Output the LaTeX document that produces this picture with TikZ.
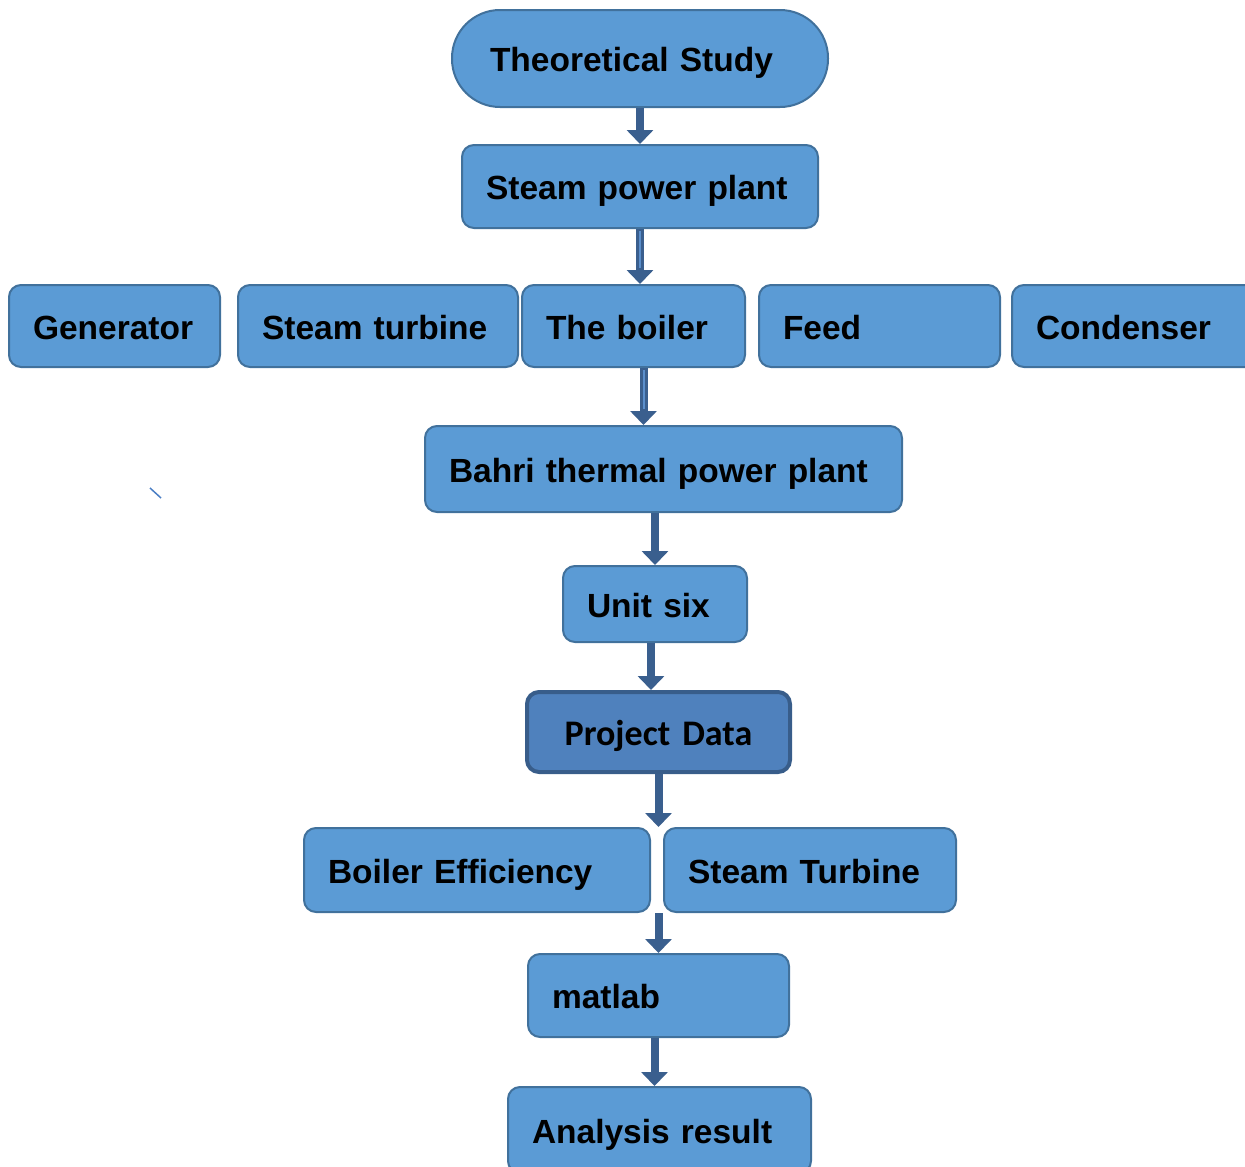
\documentclass[tikz,border=0pt]{standalone}
\usepackage{fontspec}
\setmainfont{Liberation Sans}
\newfontfamily\calibrifont{Carlito}
\usetikzlibrary{arrows.meta,positioning,calc}

\definecolor{boxfill}{HTML}{5B9BD5}
\definecolor{boxline}{HTML}{41719C}
\definecolor{datafill}{HTML}{4F81BD}
\definecolor{dataline}{HTML}{385D8A}
\definecolor{arrowblue}{HTML}{3A5F8E}
\definecolor{arrowlight}{HTML}{5B8FCC}
\definecolor{strayblue}{HTML}{4A7EC4}

\begin{document}
\begin{tikzpicture}[
  x=1pt, y=-1pt,
  stepbox/.style={draw=boxline, fill=boxfill, rounded corners=12pt, line width=2pt,
                  inner xsep=24pt, inner ysep=0pt, align=left,
                  text height=26pt, text depth=0pt,
                  font=\bfseries\fontsize{33.5}{38}\selectfont},
  startbox/.style={stepbox, rounded corners=48pt, inner xsep=38pt},
  databox/.style={stepbox, draw=dataline, fill=datafill, line width=4pt,
                  align=center, inner xsep=30pt,
                  font=\calibrifont\bfseries\fontsize{36}{40}\selectfont},
  arrow/.style={-{Triangle[length=14pt,width=26pt]}, line width=8pt, draw=arrowblue},
  innerline/.style={line width=2pt, draw=arrowlight, shorten >=16pt, shorten <=2pt},
  strayline/.style={line width=1.5pt, draw=strayblue}
]
\useasboundingbox (0,0) rectangle (1245,1167);

% Top of the chart
\node[startbox, text width=300pt, minimum height=97pt] (ts) at (640,58.5) {Theoretical Study};
\node[stepbox, text width=308pt, minimum height=83pt] (spp) at (640,186.5) {Steam power plant};

% Row of plant parts
\node[stepbox, text width=163pt, minimum height=82pt] (gen) at (114.5,326) {Generator};
\node[stepbox, text width=232pt, minimum height=82pt] (stt) at (378,326) {Steam turbine};
\node[stepbox, text width=175pt, minimum height=82pt] (boil) at (633.5,326) {The boiler};
\node[stepbox, text width=193pt, minimum height=82pt] (feed) at (879.5,326) {Feed};
\node[stepbox, text width=202pt, minimum height=82pt] (cond) at (1137,326) {Condenser};

% Plant and unit
\node[stepbox, text width=429pt, minimum height=86pt] (bahri) at (663.5,469) {Bahri thermal power plant};
\node[stepbox, text width=136pt, minimum height=76pt] (unit) at (655,604) {Unit six};
\node[databox, text width=203pt, minimum height=80pt] (pd) at (658.5,732) {Project Data};

% Analysis part
\node[stepbox, text width=298pt, minimum height=84pt] (be) at (477,870) {Boiler Efficiency};
\node[stepbox, text width=244pt, minimum height=84pt] (st) at (810,870) {Steam Turbine};
\node[stepbox, text width=213pt, minimum height=83pt] (matlab) at (658.5,995.5) {matlab};
\node[stepbox, text width=255pt, minimum height=86pt] (ar) at (659.5,1130) {Analysis result};

% Arrows
\draw[arrow] (ts.south) -- (spp.north);
\draw[arrow] (spp.south) -- (spp.south |- boil.north);
\draw[innerline] (spp.south) -- (spp.south |- boil.north);
\draw[arrow] ([xshift=10pt]boil.south) -- ([xshift=10pt]boil.south |- bahri.north);
\draw[innerline] ([xshift=10pt]boil.south) -- ([xshift=10pt]boil.south |- bahri.north);
\draw[arrow] (unit.north |- bahri.south) -- (unit.north);
\draw[arrow] ([xshift=-4pt]unit.south) -- ([xshift=-4pt]unit.south |- pd.north);
\draw[arrow] (pd.south) -- (pd.south |- st.north);
\draw[arrow] (matlab.north |- st.south) -- (matlab.north);
\draw[arrow] ([xshift=-4pt]matlab.south) -- ([xshift=-4pt]matlab.south |- ar.north);

% Small stroke at the left
\draw[strayline] (150,488) -- (161,498);

\end{tikzpicture}
\end{document}
